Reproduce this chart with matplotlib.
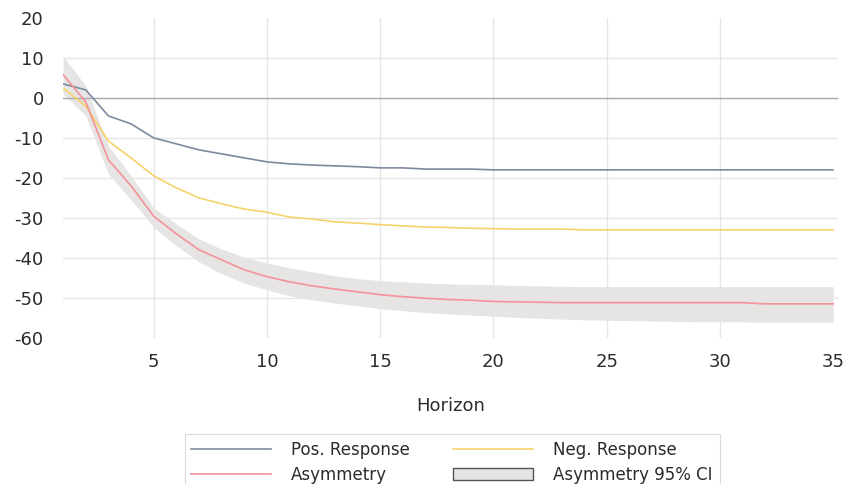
import numpy as np
import matplotlib
matplotlib.use('Agg')
import matplotlib.pyplot as plt
from matplotlib.patches import Patch
from matplotlib.lines import Line2D

plt.rcParams['font.family'] = ['DejaVu Sans']
plt.rcParams['axes.unicode_minus'] = False

horizon = list(range(1, 36))

pos_response = [3.5, 2.0, -4.5, -6.5, -10.0, -11.5, -13.0, -14.0, -15.0, -16.0,
                -16.5, -16.8, -17.0, -17.2, -17.5, -17.5, -17.8, -17.8, -17.8, -18.0,
                -18.0, -18.0, -18.0, -18.0, -18.0, -18.0, -18.0, -18.0, -18.0, -18.0,
                -18.0, -18.0, -18.0, -18.0, -18.0]
neg_response = [2.5, -2.0, -10.8, -15.0, -19.5, -22.5, -25.0, -26.5, -27.8, -28.6,
                -29.8, -30.3, -31.0, -31.3, -31.7, -32.0, -32.3, -32.4, -32.6, -32.7,
                -32.8, -32.8, -32.8, -33.0, -33.0, -33.0, -33.0, -33.0, -33.0, -33.0,
                -33.0, -33.0, -33.0, -33.0, -33.0]
asymmetry = [5.8, -1.0, -15.5, -22.0, -29.6, -34.0, -38.0, -40.5, -43.0, -44.7,
             -46.0, -47.0, -47.8, -48.5, -49.2, -49.7, -50.1, -50.4, -50.6, -50.9,
             -51.0, -51.1, -51.2, -51.2, -51.2, -51.2, -51.2, -51.2, -51.2, -51.2,
             -51.2, -51.5, -51.5, -51.5, -51.5]
ci_upper = [10.5, 3.0, -12.0, -19.5, -27.5, -31.5, -35.3, -37.8, -39.8, -41.3,
            -42.5, -43.5, -44.5, -45.2, -45.7, -46.0, -46.3, -46.5, -46.6, -46.7,
            -46.9, -47.0, -47.1, -47.2, -47.2, -47.2, -47.2, -47.2, -47.2, -47.2,
            -47.2, -47.2, -47.2, -47.2, -47.2]
ci_lower = [1.0, -4.5, -19.0, -25.5, -32.3, -37.0, -41.0, -44.0, -46.3, -48.0,
            -49.5, -50.5, -51.3, -52.0, -52.7, -53.2, -53.7, -54.0, -54.3, -54.6,
            -54.9, -55.1, -55.3, -55.5, -55.6, -55.7, -55.8, -55.9, -56.0, -56.0,
            -56.0, -56.1, -56.1, -56.1, -56.1]

x_ticks = [5, 10, 15, 20, 25, 30, 35]
y_ticks = [-60, -50, -40, -30, -20, -10, 0, 10, 20]

C_POS = '#7d8a9e'
C_NEG = '#f6d36a'
C_ASY = '#f3929a'
C_CI = '#e6e5e3'
TXT = '#2b2b2b'
GRID = '#e6e6e6'

fig = plt.figure(figsize=(8.53, 4.84), dpi=100)
ax = fig.add_axes([0.074, 0.302, 0.908, 0.661])

# grid: no lines at the outer edges
for xv in x_ticks[:-1]:
    ax.axvline(xv, color=GRID, linewidth=1.0, zorder=0)
for yv in y_ticks[1:-1]:
    if yv != 0:
        ax.axhline(yv, color=GRID, linewidth=1.0, zorder=0)
ax.axhline(0, color='#a8a8a8', linewidth=1.0, zorder=2)

ax.fill_between(horizon, ci_lower, ci_upper, color=C_CI, linewidth=0, zorder=1)
ax.plot(horizon, pos_response, color=C_POS, linewidth=1.2, zorder=3)
ax.plot(horizon, neg_response, color=C_NEG, linewidth=1.2, zorder=3)
ax.plot(horizon, asymmetry, color=C_ASY, linewidth=1.2, zorder=3)

ax.set_xlim(1, 35.2)
ax.set_ylim(-60, 20)
ax.set_xticks(x_ticks)
ax.set_yticks(y_ticks)
for s in ax.spines.values():
    s.set_visible(False)
ax.tick_params(axis='y', length=0, labelsize=13, colors=TXT, pad=14)
ax.tick_params(axis='x', length=0, labelsize=13, colors=TXT, pad=11)
ax.set_xlabel('Horizon', fontsize=13, color=TXT, labelpad=19)

handles = [
    Line2D([], [], color=C_POS, linewidth=1.2),
    Line2D([], [], color=C_NEG, linewidth=1.2),
    Line2D([], [], color=C_ASY, linewidth=1.2),
    Patch(facecolor=C_CI, edgecolor='#555555', linewidth=1.0),
]
labels = ['Pos. Response', 'Neg. Response', 'Asymmetry', 'Asymmetry 95% CI']
order = [0, 2, 1, 3]
leg = fig.legend([handles[i] for i in order], [labels[i] for i in order],
                 ncol=2, loc='upper center', bbox_to_anchor=(0.53, 0.12),
                 fontsize=12, frameon=True, fancybox=False,
                 handlelength=4.8, columnspacing=2.6, handletextpad=1.2,
                 labelspacing=0.4, borderpad=0.4)
leg.get_frame().set_edgecolor('#d0d0d0')
leg.get_frame().set_linewidth(0.8)
for t in leg.get_texts():
    t.set_color(TXT)

fig.savefig('out.png', dpi=100)
